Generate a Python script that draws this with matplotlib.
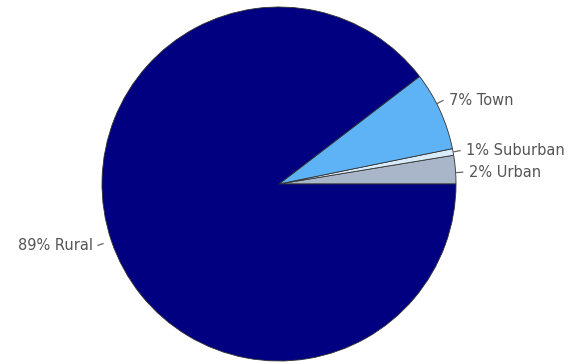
import numpy as np
import matplotlib
matplotlib.use("Agg")
import matplotlib.pyplot as plt

# ============================================================
# DATA
# ============================================================

categories = ["Urban", "Suburban", "Town", "Rural"]
shares = [2.6, 0.6, 7.2, 89.6]
label_texts = ["2% Urban", "1% Suburban", "7% Town", "89% Rural"]
colors = ["#a9b5c9", "#d9ecfb", "#5db3f5", "#000080"]

# ============================================================
# PLOT
# ============================================================

plt.rcParams["font.family"] = ["DejaVu Sans"]

fig = plt.figure(figsize=(5.76, 3.64), dpi=100)
ax = fig.add_axes([0, 0, 1, 1])

cx, cy, r = 279, 180, 177
wedges, _ = ax.pie(
    shares,
    colors=colors,
    startangle=0,
    counterclock=True,
    center=(cx, cy),
    radius=r,
    frame=True,
    wedgeprops=dict(edgecolor="#333333", linewidth=0.6),
)
ax.set_xlim(0, 576)
ax.set_ylim(0, 364)
ax.axis("off")

# small nudges so labels do not collide (degrees), and leader radii
nudge = {"Urban": -1.0, "Suburban": 0.0, "Town": 2.5, "Rural": 0.0}
lead = {"Urban": (1.005, 1.04), "Suburban": (1.005, 1.04),
        "Town": (1.005, 1.04), "Rural": (1.05, 1.08)}

for w, name, txt in zip(wedges, categories, label_texts):
    ang = np.deg2rad((w.theta1 + w.theta2) / 2 + nudge[name])
    c, s = np.cos(ang), np.sin(ang)
    r0, r1 = lead[name]
    x0, y0 = cx + r * r0 * c, cy + r * r0 * s
    x1, y1 = cx + r * r1 * c, cy + r * r1 * s
    ax.plot([x0, x1], [y0, y1], color="#666666", lw=0.9)
    if c >= 0:
        ax.text(x1 + 6, y1, txt, ha="left", va="center", fontsize=10.5, color="#555555")
    else:
        ax.text(x1 - 5, y1, txt, ha="right", va="center", fontsize=10.5, color="#555555")

fig.savefig("out.png", dpi=100, facecolor="white")
